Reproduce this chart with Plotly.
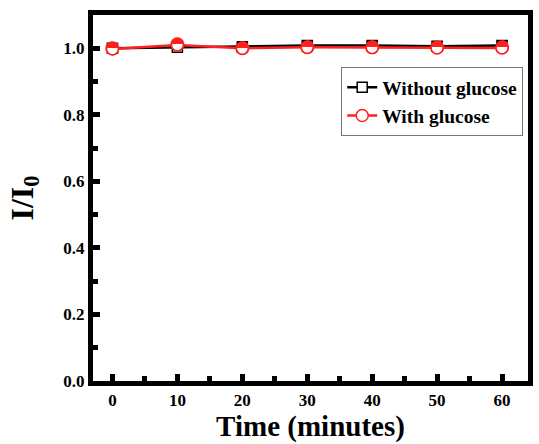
import plotly.graph_objects as go

time_min = [0, 10, 20, 30, 40, 50, 60]
without_glucose = [1.000, 1.003, 1.004, 1.008, 1.008, 1.006, 1.008]
with_glucose = [0.998, 1.010, 1.000, 1.003, 1.002, 1.001, 1.001]

font_family = "Liberation Serif"
fig = go.Figure()

fig.add_trace(go.Scatter(
    x=time_min, y=without_glucose, mode="lines+markers", name="Without glucose",
    line=dict(color="black", width=2.5),
    marker=dict(symbol="square", size=10, color="white", line=dict(color="black", width=1.5)),
))
fig.add_trace(go.Scatter(
    x=time_min, y=without_glucose, mode="text", text=["\u2b12"] * len(time_min),
    textposition="middle center", textfont=dict(color="black", size=14, family="DejaVu Sans"),
    showlegend=False, hoverinfo="skip",
))
fig.add_trace(go.Scatter(
    x=time_min, y=with_glucose, mode="lines+markers", name="With glucose",
    line=dict(color="#ff2020", width=2.5),
    marker=dict(symbol="circle", size=12, color="white", line=dict(color="#ff2020", width=1.5)),
))
fig.add_trace(go.Scatter(
    x=time_min, y=with_glucose, mode="text", text=["\u25d3"] * len(time_min),
    textposition="middle center", textfont=dict(color="#ff2020", size=18, family="DejaVu Sans"),
    showlegend=False, hoverinfo="skip",
))

tick_font = dict(family=font_family, size=17, color="black", weight="bold")

fig.update_xaxes(
    showline=True, linecolor="black", linewidth=5, mirror=True,
    ticks="inside", ticklen=7, tickwidth=5, tickcolor="black",
    showgrid=False, zeroline=False, tickfont=tick_font,
    range=[-3, 64], tickvals=time_min,
    minor=dict(ticks="inside", ticklen=5, tickwidth=5, tickcolor="black", dtick=5, tick0=0),
    title=dict(text="<b>Time (minutes)</b>", font=dict(family=font_family, size=29), standoff=2),
)
fig.update_yaxes(
    showline=True, linecolor="black", linewidth=5, mirror=True,
    ticks="inside", ticklen=7, tickwidth=5, tickcolor="black",
    showgrid=False, zeroline=False, tickfont=tick_font,
    range=[0, 1.1], tickvals=[0, 0.2, 0.4, 0.6, 0.8, 1.0], tickformat=".1f",
    minor=dict(ticks="inside", ticklen=5, tickwidth=5, tickcolor="black", dtick=0.1, tick0=0),
    title=dict(text="<b>I/I<sub>0</sub></b>", font=dict(family=font_family, size=32), standoff=22),
)

fig.update_layout(
    width=539, height=444,
    margin=dict(l=93, r=6, t=15, b=63),
    paper_bgcolor="white", plot_bgcolor="white",
    font=dict(family=font_family, color="black"),
    legend=dict(
        x=0.989, y=0.858, xanchor="right", yanchor="top",
        bordercolor="#777777", borderwidth=1, bgcolor="white",
        font=dict(family=font_family, size=19.5, color="black", weight="bold"),
    ),
)

fig.write_html("out.html", config={"displayModeBar": False},
               post_script="document.body.style.margin='0';")
